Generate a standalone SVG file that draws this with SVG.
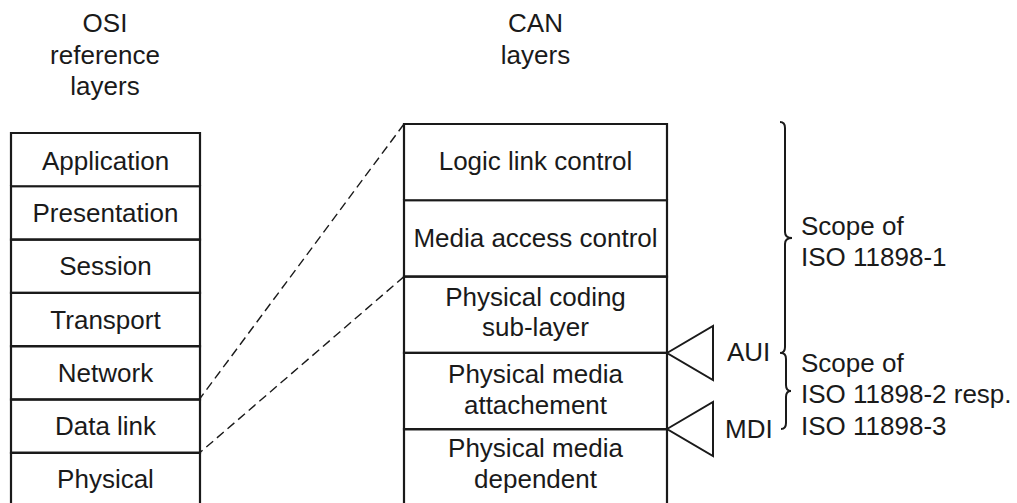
<svg xmlns="http://www.w3.org/2000/svg" width="1017" height="503" viewBox="0 0 1017 503">
<style>
text{font-family:"Liberation Sans",Arial,sans-serif;font-size:26px;fill:#1a1a1a}
.c{text-anchor:middle}
.box{fill:none;stroke:#1a1a1a;stroke-width:2.2}
.dash{fill:none;stroke:#1a1a1a;stroke-width:1.4;stroke-dasharray:9 5}
.br{fill:none;stroke:#1a1a1a;stroke-width:2}
</style>
<rect width="1017" height="503" fill="#fff"/>
<g id="title-osi">
<text class="c" x="105" y="32">OSI</text>
<text class="c" x="105" y="64">reference</text>
<text class="c" x="105" y="95">layers</text>
</g>
<g id="title-can">
<text class="c" x="535.5" y="32">CAN</text>
<text class="c" x="535.5" y="64">layers</text>
</g>
<g id="osi-application"><path class="box" d="M11,186.3V133H200V186.3"/><text class="c" x="105.5" y="170">Application</text></g>
<g id="osi-presentation"><rect class="box" x="11" y="186.3" width="189" height="53.3"/><text class="c" x="105.5" y="222">Presentation</text></g>
<g id="osi-session"><rect class="box" x="11" y="239.6" width="189" height="53.3"/><text class="c" x="105.5" y="275">Session</text></g>
<g id="osi-transport"><rect class="box" x="11" y="292.9" width="189" height="53.3"/><text class="c" x="105.5" y="328.5">Transport</text></g>
<g id="osi-network"><rect class="box" x="11" y="346.2" width="189" height="53.3"/><text class="c" x="105.5" y="381.5">Network</text></g>
<g id="osi-datalink"><rect class="box" x="11" y="399.5" width="189" height="53.3"/><text class="c" x="105.5" y="434.5">Data link</text></g>
<g id="osi-physical"><path class="box" d="M11,505V452.8H200V505"/><text class="c" x="105.5" y="488">Physical</text></g>

<g id="can-llc"><path class="box" d="M404,200.3V124H667V200.3"/><text class="c" x="535.5" y="170">Logic link control</text></g>
<g id="can-mac"><rect class="box" x="404" y="200.3" width="263" height="76.3"/><text class="c" x="535.5" y="247">Media access control</text></g>
<g id="can-pcs"><rect class="box" x="404" y="276.6" width="263" height="76.3"/><text class="c" x="535.5" y="306">Physical coding</text><text class="c" x="535.5" y="336">sub-layer</text></g>
<g id="can-pma"><rect class="box" x="404" y="352.9" width="263" height="76.3"/><text class="c" x="535.5" y="383">Physical media</text><text class="c" x="535.5" y="414">attachement</text></g>
<g id="can-pmd"><path class="box" d="M404,505V429.2H667V505"/><text class="c" x="535.5" y="457">Physical media</text><text class="c" x="535.5" y="488">dependent</text></g>

<g id="connectors">
<line class="dash" x1="404" y1="124" x2="200" y2="398.5"/>
<line class="dash" x1="404" y1="276.6" x2="200" y2="452.5"/>
</g>

<g id="aui"><path class="br" d="M667,353L713,326V380Z"/><text x="727" y="361">AUI</text></g>
<g id="mdi"><path class="br" d="M667,429L713,402V456Z"/><text x="725" y="438">MDI</text></g>

<g id="scope-1">
<path class="br" d="M780,122Q785,122 785,128V232Q785,238 792,238Q785,238 785,244V347Q785,353 780,353"/>
<text x="801" y="235">Scope of</text>
<text x="801" y="266">ISO 11898-1</text>
</g>
<g id="scope-2">
<path class="br" d="M781,353Q786,353 786,359V385Q786,391 791,391Q786,391 786,397V423Q786,429 781,429"/>
<text x="801" y="372">Scope of</text>
<text x="801" y="403">ISO 11898-2 resp.</text>
<text x="801" y="435">ISO 11898-3</text>
</g>
</svg>
